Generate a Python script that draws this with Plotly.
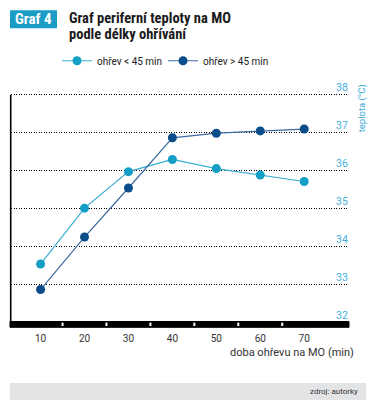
import plotly.graph_objects as go

minutes = [10, 20, 30, 40, 50, 60, 70]
short_heating = [33.55, 35.02, 35.98, 36.3, 36.06, 35.89, 35.72]
long_heating = [32.88, 34.26, 35.55, 36.87, 36.99, 37.05, 37.1]
series_names = ["ohřev < 45 min", "ohřev > 45 min"]
minor_ticks = [15, 25, 35, 45, 55, 65]
y_ticks = [32, 33, 34, 35, 36, 37, 38]

LIGHT = "#139fc6"
DARK = "#0b4d8a"

W, H = 376, 413
# pixel geometry: y=38 at 95px, y=32 at 323px -> 38 px per degree
Y_TOP = 38.1
L, R, B = 11, 349, 323
T = 95 - (Y_TOP - 38) * 38
pw, ph = R - L, B - T


def px(x):
    return (x - L) / pw


def py(y):
    return (B - y) / ph


fig = go.Figure()
fig.add_trace(go.Scatter(
    x=minutes, y=short_heating, name=series_names[0], mode="lines+markers",
    line=dict(color="#3aaed3", width=1.2),
    marker=dict(color=LIGHT, size=9),
))
fig.add_trace(go.Scatter(
    x=minutes, y=long_heating, name=series_names[1], mode="lines+markers",
    line=dict(color="#3d6aa3", width=1.2),
    marker=dict(color=DARK, size=9),
))

shapes = []
# bottom black bar
shapes.append(dict(type="rect", xref="paper", yref="paper", x0=-0.003, x1=1.0,
                   y0=py(327.3), y1=py(321.5), fillcolor="black", line=dict(color="black", width=1), layer="above"))
for t in minor_ticks:
    shapes.append(dict(type="line", xref="x", yref="paper", x0=t, x1=t,
                       y0=py(322.6), y1=py(326.0), line=dict(color="white", width=2), layer="above"))
# left axis line
shapes.append(dict(type="line", xref="paper", yref="y", x0=px(10.7), x1=px(10.7), y0=y_ticks[0], y1=y_ticks[-1],
                   line=dict(color="black", width=1.6), layer="above"))
# badge
shapes.append(dict(type="rect", xref="paper", yref="paper", x0=px(10), x1=px(57),
                   y0=py(28.5), y1=py(10.5), fillcolor="#1a9cc4", line=dict(width=0), layer="below"))
# footer band
shapes.append(dict(type="rect", xref="paper", yref="paper", x0=px(10), x1=px(366),
                   y0=py(400), y1=py(383), fillcolor="#e3e4e6", line=dict(width=0), layer="below"))

TF = "Liberation Sans Narrow, Roboto Condensed, Roboto"
annotations = [
    dict(text="<b>Graf 4</b>", xref="paper", yref="paper", x=px(33.5), y=py(19.5),
         xanchor="center", yanchor="middle", showarrow=False,
         font=dict(family=TF, size=15, color="white")),
    dict(text="<b>Graf periferní teploty na MO</b>", xref="paper", yref="paper",
         x=px(67), y=py(18.5), xanchor="left", yanchor="middle", align="left", showarrow=False,
         font=dict(family=TF, size=14.5, color="#1a1a1a")),
    dict(text="<b>podle délky ohřívání</b>", xref="paper", yref="paper",
         x=px(67), y=py(35), xanchor="left", yanchor="middle", align="left", showarrow=False,
         font=dict(family=TF, size=14.5, color="#1a1a1a")),
    dict(text="teplota (°C)", xref="paper", yref="paper", x=px(362), y=py(108.5),
         xanchor="center", yanchor="middle", textangle=-90, showarrow=False,
         font=dict(family="Roboto", size=9.5, color="#3aa9d8")),
    dict(text="doba ohřevu na MO (min)", xref="paper", yref="paper", x=px(356), y=py(352),
         xanchor="right", yanchor="middle", showarrow=False,
         font=dict(family="Roboto", size=11, color="#333333")),
    dict(text="zdroj: autorky", xref="paper", yref="paper", x=px(360), y=py(391.5),
         xanchor="right", yanchor="middle", showarrow=False,
         font=dict(family="Roboto", size=8, color="#333333")),
]
# y-axis tick labels placed above gridlines at the right edge
for v in y_ticks:
    annotations.append(dict(text=str(v), xref="paper", yref="y", x=1.0, y=v,
                            xanchor="right", yanchor="bottom", showarrow=False, yshift=0,
                            borderpad=0, font=dict(family="Roboto", size=10.5, color="#45b0de")))

fig.update_layout(
    width=W, height=H,
    margin=dict(l=L, r=W - R, t=T, b=H - B, pad=0, autoexpand=False),
    paper_bgcolor="white", plot_bgcolor="white",
    showlegend=True,
    legend=dict(orientation="h", x=px(57), y=py(61), xanchor="left", yanchor="middle",
                font=dict(family="Roboto", size=10, color="#222222"),
                itemwidth=30, entrywidth=61, entrywidthmode="pixels",
                bgcolor="rgba(0,0,0,0)"),
    hovermode=False,
    shapes=shapes,
    annotations=annotations,
    xaxis=dict(range=[3.27, 80.2], tickvals=minutes, ticks="", showgrid=False, zeroline=False,
               showline=False, tickfont=dict(family="Roboto", size=10, color="#333333"),
               ticklabelstandoff=8),
    yaxis=dict(range=[32, Y_TOP], tickvals=y_ticks, side="right", showticklabels=False,
               showgrid=True, gridcolor="black", griddash="1px,1.5px", gridwidth=1,
               zeroline=False, showline=False, ticks=""),
)

fig.write_html("out.html", config={"displayModeBar": False, "staticPlot": True},
               post_script="document.body.style.margin='0';document.body.style.overflow='hidden';")
